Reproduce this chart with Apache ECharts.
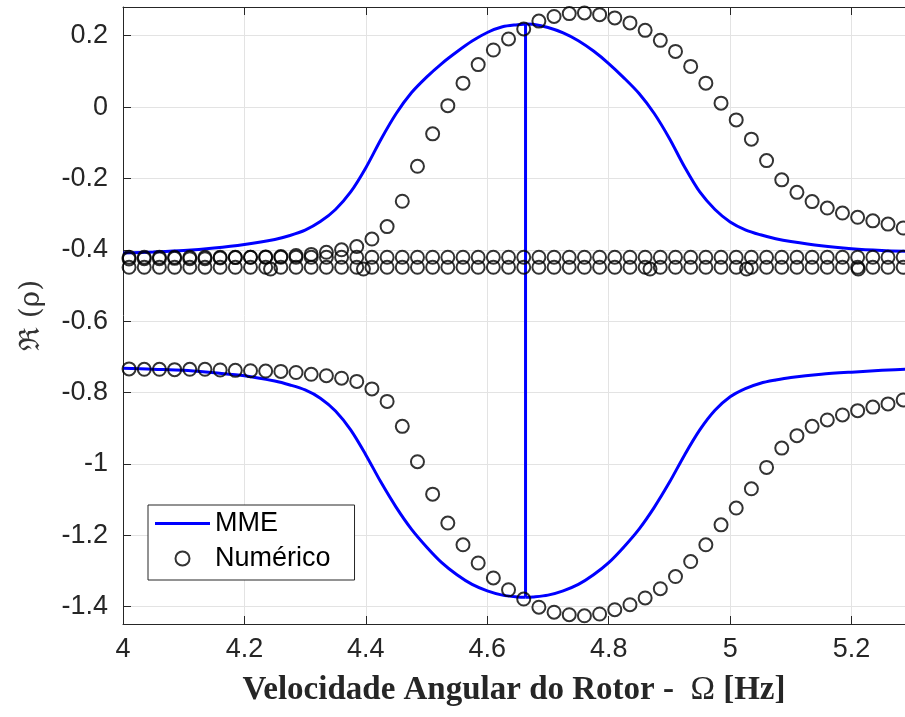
<!DOCTYPE html>
<html><head><meta charset="utf-8">
<script src="https://cdn.jsdelivr.net/npm/echarts@6/dist/echarts.min.js"></script>
<style>html,body{margin:0;padding:0;background:#fff}#c{width:905px;height:717px}</style>
</head><body><div id="c"></div>
<script>
// ---- MME (analytical) curves ----
const mmeX = [4.0, 4.05, 4.1, 4.15, 4.2, 4.25, 4.275, 4.3, 4.325, 4.35, 4.375, 4.4, 4.425, 4.45, 4.475, 4.5, 4.525, 4.55, 4.575, 4.6, 4.625, 4.65, 4.663, 4.675, 4.7, 4.725, 4.75, 4.775, 4.8, 4.825, 4.85, 4.875, 4.9, 4.925, 4.95, 4.975, 5.0, 5.025, 5.05, 5.075, 5.1, 5.15, 5.2, 5.25, 5.3];
const mmeUpper = [-0.409, -0.406, -0.402, -0.395, -0.385, -0.371, -0.360, -0.345, -0.321, -0.287, -0.238, -0.170, -0.090, -0.018, 0.040, 0.084, 0.122, 0.155, 0.185, 0.209, 0.225, 0.231, 0.233, 0.232, 0.223, 0.208, 0.186, 0.157, 0.122, 0.082, 0.038, -0.018, -0.088, -0.168, -0.238, -0.287, -0.322, -0.344, -0.358, -0.369, -0.377, -0.389, -0.397, -0.402, -0.405];
const mmeLower = [-0.732, -0.735, -0.738, -0.745, -0.753, -0.768, -0.779, -0.793, -0.816, -0.852, -0.905, -0.975, -1.052, -1.122, -1.183, -1.233, -1.277, -1.311, -1.338, -1.356, -1.368, -1.373, -1.374, -1.373, -1.368, -1.356, -1.338, -1.311, -1.277, -1.233, -1.183, -1.122, -1.052, -0.975, -0.905, -0.850, -0.812, -0.789, -0.774, -0.765, -0.758, -0.749, -0.743, -0.738, -0.734];
const mmeSwitchX = 4.663;

// ---- Numerical results ----
const numX = [4.01, 4.035, 4.06, 4.085, 4.11, 4.135, 4.16, 4.185, 4.21, 4.235, 4.26, 4.285, 4.31, 4.335, 4.36, 4.385, 4.41, 4.435, 4.46, 4.485, 4.51, 4.535, 4.56, 4.585, 4.61, 4.635, 4.66, 4.685, 4.71, 4.735, 4.76, 4.785, 4.81, 4.835, 4.86, 4.885, 4.91, 4.935, 4.96, 4.985, 5.01, 5.035, 5.06, 5.085, 5.11, 5.135, 5.16, 5.185, 5.21, 5.235, 5.26, 5.285];
const numUpper = [-0.426, -0.425, -0.425, -0.424, -0.425, -0.425, -0.423, -0.422, -0.421, -0.420, -0.419, -0.416, -0.413, -0.407, -0.400, -0.391, -0.370, -0.335, -0.264, -0.166, -0.075, 0.004, 0.067, 0.119, 0.160, 0.191, 0.219, 0.241, 0.254, 0.262, 0.264, 0.259, 0.250, 0.236, 0.215, 0.187, 0.156, 0.114, 0.067, 0.011, -0.036, -0.090, -0.150, -0.204, -0.239, -0.265, -0.283, -0.297, -0.309, -0.319, -0.328, -0.339];
const numLower = [-0.734, -0.735, -0.735, -0.736, -0.735, -0.735, -0.737, -0.738, -0.739, -0.740, -0.741, -0.744, -0.749, -0.753, -0.760, -0.769, -0.790, -0.825, -0.895, -0.994, -1.085, -1.166, -1.227, -1.278, -1.320, -1.353, -1.379, -1.402, -1.416, -1.423, -1.426, -1.421, -1.409, -1.395, -1.376, -1.350, -1.316, -1.274, -1.227, -1.171, -1.124, -1.070, -1.010, -0.956, -0.921, -0.895, -0.877, -0.863, -0.851, -0.841, -0.832, -0.821];
const numRowA = [-0.421, -0.421, -0.421, -0.421, -0.421, -0.421, -0.421, -0.421, -0.421, -0.421, -0.421, -0.421, -0.421, -0.421, -0.421, -0.421, -0.421, -0.421, -0.421, -0.421, -0.421, -0.421, -0.421, -0.421, -0.421, -0.421, -0.421, -0.421, -0.421, -0.421, -0.421, -0.421, -0.421, -0.421, -0.421, -0.421, -0.421, -0.421, -0.421, -0.421, -0.421, -0.421, -0.421, -0.421, -0.421, -0.421, -0.421, -0.421, -0.421, -0.421, -0.421, -0.421];
const numRowB = [-0.449, -0.449, -0.449, -0.449, -0.449, -0.449, -0.449, -0.449, -0.449, -0.449, -0.449, -0.449, -0.449, -0.449, -0.449, -0.449, -0.449, -0.449, -0.449, -0.449, -0.449, -0.449, -0.449, -0.449, -0.449, -0.449, -0.449, -0.449, -0.449, -0.449, -0.449, -0.449, -0.449, -0.449, -0.449, -0.449, -0.449, -0.449, -0.449, -0.449, -0.449, -0.449, -0.449, -0.449, -0.449, -0.449, -0.449, -0.449, -0.449, -0.449, -0.449, -0.449];
const extraX = [4.243, 4.396, 4.868, 5.027, 5.211];
const extraY = [-0.454, -0.454, -0.454, -0.454, -0.454];

// ---- axes ----
const xMin = 4, xMax = 5.288;
const yMin = -1.449, yMax = 0.2805;
const xTitleMain = 'Velocidade Angular do Rotor -  ';
const xTitleSym = 'Ω';
const xTitleUnit = ' [Hz]';
const yTitle = 'ℜ (ρ)';

// split a curve into the part left of / right of the switch point (inclusive)
function part(ys, left) {
  const out = [];
  mmeX.forEach((x, i) => {
    if (left ? x <= mmeSwitchX : x >= mmeSwitchX) out.push([x, ys[i]]);
  });
  return out;
}
const iSw = mmeX.indexOf(mmeSwitchX);
const jumpSeg = [[mmeSwitchX, mmeUpper[iSw]], [mmeSwitchX, mmeLower[iSw]]];
const zip = (xs, ys) => xs.map((x, i) => [x, ys[i]]);

const axisColor = '#262626';
const gridColor = '#e3e3e3';
const tickFont = 'Liberation Sans';

const circleStyle = { color: 'transparent', borderColor: '#000', borderWidth: 2 };
const scatterBase = {
  type: 'scatter', name: 'Numérico', symbol: 'circle', symbolSize: 13,
  itemStyle: circleStyle, silent: true, z: 3
};
const lineBase = {
  type: 'line', name: 'MME', symbol: 'none', showSymbol: false, smooth: 0.3,
  lineStyle: { color: '#0000ff', width: 3 }, itemStyle: { color: '#0000ff' },
  silent: true, z: 2
};

const chart = echarts.init(document.getElementById('c'));
chart.setOption({
  animation: false,
  backgroundColor: '#fff',
  grid: { left: 123, right: 0, top: 7, bottom: 93, containLabel: false },
  xAxis: [{
    type: 'value', min: xMin, max: xMax, splitNumber: 6, position: 'bottom',
    axisLine: { show: true, onZero: false, lineStyle: { color: axisColor, width: 1 } },
    axisTick: { show: true, inside: true, length: 8, lineStyle: { color: axisColor } },
    axisLabel: { fontSize: 27, color: axisColor, fontFamily: tickFont, margin: 12, showMaxLabel: false },
    splitLine: { show: true, lineStyle: { color: gridColor, width: 1 } },
    name: '{b|' + xTitleMain + '}{o|' + xTitleSym + '}{b|' + xTitleUnit + '}',
    nameLocation: 'middle', nameGap: 50,
    nameTextStyle: {
      rich: {
        b: { fontFamily: 'Liberation Serif', fontWeight: 'bold', fontSize: 33, color: axisColor },
        o: { fontFamily: 'Liberation Serif', fontSize: 33, color: axisColor }
      }
    }
  }, {
    type: 'value', min: xMin, max: xMax, splitNumber: 6, position: 'top',
    axisLine: { show: true, onZero: false, lineStyle: { color: axisColor, width: 1 } },
    axisTick: { show: true, inside: true, length: 8, lineStyle: { color: axisColor } },
    axisLabel: { show: false }, splitLine: { show: false }
  }],
  yAxis: [{
    type: 'value', min: yMin, max: yMax, splitNumber: 8,
    axisLine: { show: true, onZero: false, lineStyle: { color: axisColor, width: 1 } },
    axisTick: { show: true, inside: true, length: 8, lineStyle: { color: axisColor } },
    axisLabel: { fontSize: 27, color: axisColor, fontFamily: tickFont, margin: 15, showMinLabel: false, showMaxLabel: false },
    splitLine: { show: true, lineStyle: { color: gridColor, width: 1 } },
    name: yTitle, nameLocation: 'middle', nameRotate: 90, nameGap: 77,
    nameTextStyle: { fontFamily: 'DejaVu Serif', fontSize: 28, color: '#333' }
  }],
  legend: {
    left: 148, top: 505, orient: 'vertical',
    padding: [5, 24, 8, 7], itemGap: 8, itemWidth: 55, itemHeight: 14,
    borderColor: axisColor, borderWidth: 1, backgroundColor: '#fff',
    textStyle: { fontFamily: tickFont, fontSize: 27, color: '#000' },
    data: [
      { name: 'MME', icon: 'path://M0,0 H55 V3 H0 Z', itemStyle: { color: '#0000ff', borderWidth: 0 } },
      { name: 'Numérico', icon: 'circle', itemStyle: circleStyle }
    ]
  },
  series: [
    Object.assign({}, lineBase, { data: part(mmeUpper, true) }),
    Object.assign({}, lineBase, { data: part(mmeUpper, false) }),
    Object.assign({}, lineBase, { data: part(mmeLower, true) }),
    Object.assign({}, lineBase, { data: part(mmeLower, false) }),
    Object.assign({}, lineBase, { smooth: false, data: jumpSeg }),
    Object.assign({}, scatterBase, { data: zip(numX, numRowA) }),
    Object.assign({}, scatterBase, { data: zip(numX, numRowB) }),
    Object.assign({}, scatterBase, { data: zip(extraX, extraY) }),
    Object.assign({}, scatterBase, { data: zip(numX, numUpper) }),
    Object.assign({}, scatterBase, { data: zip(numX, numLower) })
  ]
});
</script>
</body></html>
